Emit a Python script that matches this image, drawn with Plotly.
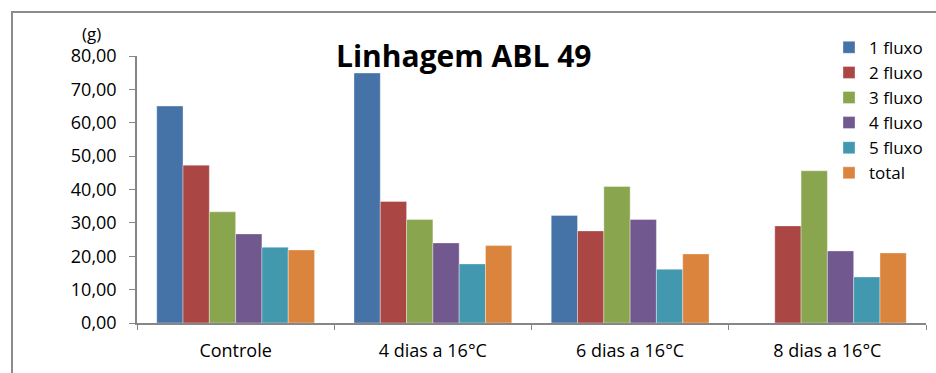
import plotly.graph_objects as go

# Categories and series values (g)
categories = ["Controle", "4 dias a 16°C", "6 dias a 16°C", "8 dias a 16°C"]
series_names = ["1 fluxo", "2 fluxo", "3 fluxo", "4 fluxo", "5 fluxo", "total"]
fluxo_1 = [65.0, 74.9, 32.2, None]
fluxo_2 = [47.3, 36.4, 27.6, 29.1]
fluxo_3 = [33.3, 31.0, 40.9, 45.6]
fluxo_4 = [26.7, 24.0, 31.0, 21.6]
fluxo_5 = [22.7, 17.7, 16.1, 13.8]
total = [21.9, 23.2, 20.7, 21.0]
y_ticks = [0, 10, 20, 30, 40, 50, 60, 70, 80]

series_values = [fluxo_1, fluxo_2, fluxo_3, fluxo_4, fluxo_5, total]
colors = ["#4572A7", "#AA4643", "#89A54E", "#71588F", "#4198AF", "#DB843D"]

FONT = "Open Sans"

fig = go.Figure()
for name, vals, col in zip(series_names, series_values, colors):
    fig.add_trace(go.Bar(
        x=categories, y=vals, name=name,
        marker=dict(color=col, line=dict(color="rgba(255,255,255,0.6)", width=0.6)),
    ))

# plot area in pixels: x 137..926, y 56..323.5
W, H = 936, 373
L, R, T, B = 137, 10, 56, 49.5
pw = W - L - R
ph = H - T - B


def px_x(px):
    return (px - L) / pw


def px_y(py):
    return (H - B - py) / ph


fig.update_layout(
    width=W, height=H,
    margin=dict(l=L, r=R, t=T, b=B, pad=0, autoexpand=False),
    paper_bgcolor="white", plot_bgcolor="white",
    separators=",.",
    barmode="group", bargap=0.2, bargroupgap=0,
    font=dict(family=FONT, size=18, color="#000000"),
    showlegend=True,
    legend=dict(
        x=px_x(829), y=px_y(29.7), xanchor="left", yanchor="top",
        bgcolor="rgba(0,0,0,0)", borderwidth=0,
        font=dict(family=FONT, size=17, color="#000000"),
        traceorder="normal", tracegroupgap=0,
    ),
    xaxis=dict(
        showline=True, linecolor="#868686", linewidth=1.5,
        ticks="outside", tickson="boundaries", ticklen=5, tickcolor="#868686",
        ticklabelstandoff=11,
        tickfont=dict(family=FONT, size=18, color="#000000"),
        showgrid=False, zeroline=False,
    ),
    yaxis=dict(
        range=[0, 80], tickvals=y_ticks, tickformat=".2f",
        showline=True, linecolor="#868686", linewidth=1.5,
        ticks="outside", ticklen=6, tickcolor="#868686",
        ticklabelstandoff=9,
        tickfont=dict(family=FONT, size=18, color="#000000"),
        showgrid=False, zeroline=False,
    ),
    annotations=[
        dict(text="<b>Linhagem ABL 49</b>", xref="paper", yref="paper",
             x=px_x(463), y=px_y(55), xanchor="center", yanchor="middle",
             showarrow=False, font=dict(family=FONT, size=30, color="#000000")),
        dict(text="(g)", xref="paper", yref="paper",
             x=px_x(91), y=px_y(33), xanchor="center", yanchor="middle",
             showarrow=False, font=dict(family=FONT, size=17, color="#000000")),
    ],
    shapes=[
        dict(type="rect", xref="paper", yref="paper",
             x0=px_x(12), x1=px_x(945), y0=px_y(385), y1=px_y(12),
             line=dict(color="#8C8C8C", width=2), layer="below"),
    ],
)

fig.write_html("out.html")
